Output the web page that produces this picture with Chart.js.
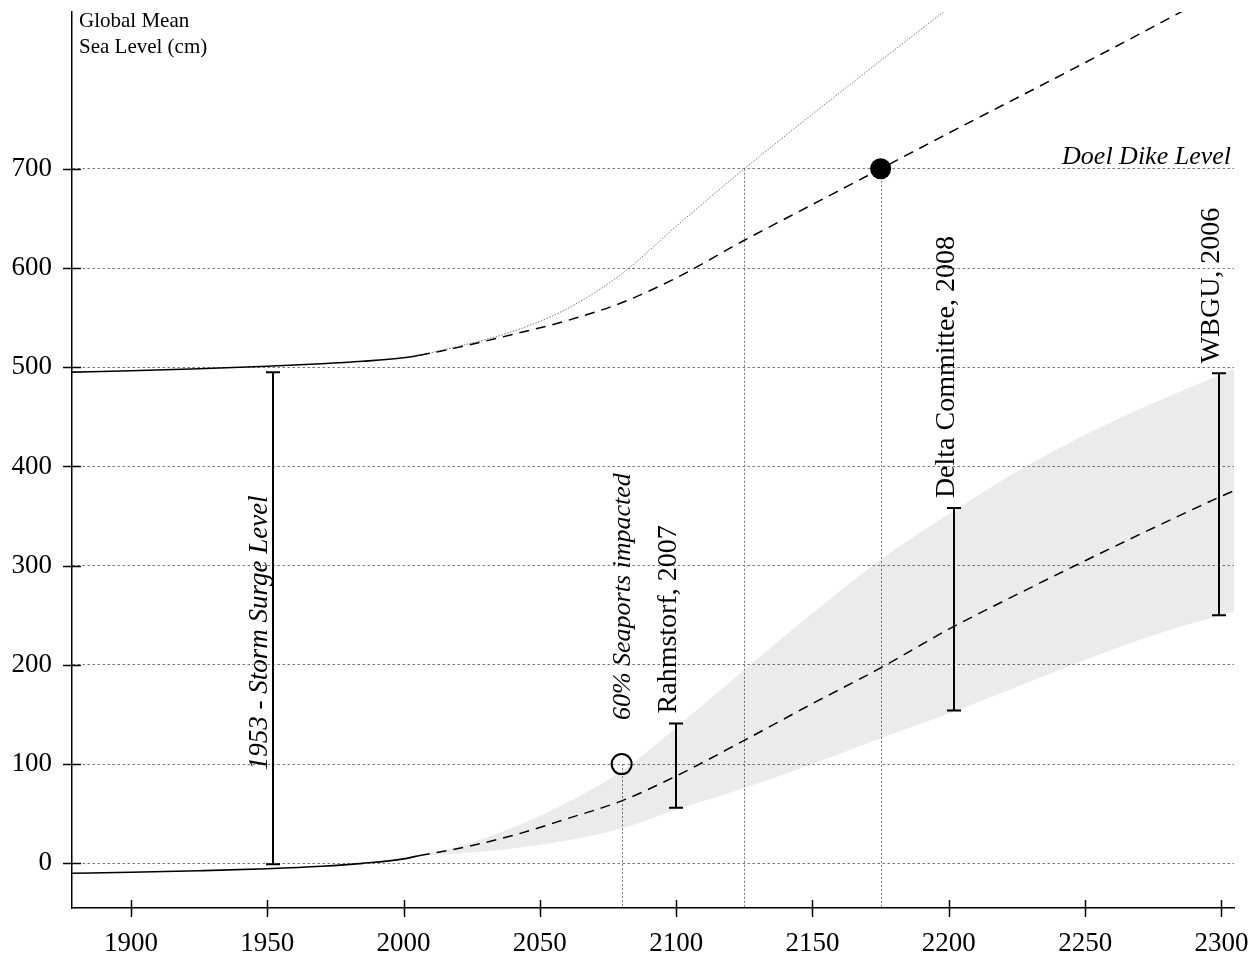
<!DOCTYPE html>
<html>
<head>
<meta charset="utf-8">
<script src="https://cdn.jsdelivr.net/npm/chart.js@4.4.1/dist/chart.umd.min.js"></script>
<style>
  html, body { margin: 0; padding: 0; background: #fff; }
  #wrap { width: 1254px; height: 965px; }
</style>
</head>
<body>
<div id="wrap"><canvas id="sea-level-chart" width="1254" height="965"></canvas></div>
<script>
const SERIF = '"Liberation Serif", "DejaVu Serif", serif';

// axis ticks
const yearTicks = [1900, 1950, 2000, 2050, 2100, 2150, 2200, 2250, 2300];
const levelTicks = [0, 100, 200, 300, 400, 500, 600, 700];

// observed global mean sea level, and the 1953 storm surge level riding on top of it
const histYears = [1878, 1900, 1925, 1950, 1970, 1985, 2000, 2006];
const histLevel = [-10, -9, -7.5, -5.5, -3, 0, 4.5, 8];
const surgeHistLevel = [495, 496.5, 498.5, 501, 503.5, 506, 509.5, 512];

// projected sea level: mid line and grey uncertainty band
const projYears = [2006, 2020, 2040, 2060, 2080, 2100, 2125, 2150, 2175, 2200, 2225, 2250, 2275, 2300, 2305];
const projMid = [8, 15, 28, 45, 63, 88, 124, 161, 197, 236, 271, 305, 338, 370, 376];
const projHigh = [8, 17, 36, 61, 93, 137, 195, 252, 306, 352, 395, 432, 464, 493, 499];
const projLow = [8, 10, 15, 23, 35, 54, 76, 100, 126, 151, 178, 205, 230, 250, 254];

// projected storm surge level (mid and fast scenario)
const surgeYears = [2006, 2020, 2040, 2060, 2080, 2100, 2125, 2150, 2175, 2200, 2250, 2290];
const surgeMid = [512, 520, 533, 547, 565, 590, 628, 664, 700, 736, 807, 865];
const fastYears = [2006, 2020, 2040, 2060, 2080, 2100, 2125, 2150, 2175, 2200];
const surgeFast = [512, 521, 536, 559, 594, 642, 700, 755, 809, 862];

// study ranges (cm) for the year they refer to
const studyYears = [2100, 2202, 2299];
const studyLow = [56, 154, 250];
const studyHigh = [141, 358, 494];
const studyNames = ['Rahmstorf, 2007', 'Delta Committee, 2008', 'WBGU, 2006'];

// 1953 storm surge
const stormYear = 1952;
const stormLow = -1;
const stormHigh = 495;

// marked points
const seaportYear = 2080;
const seaportLevel = 100;
const dikeYear = 2175;
const dikeLevel = 700;

// dotted drop lines: year and level they start from
const dropYears = [2080, 2125, 2175];
const dropLevels = [100, 700, 700];

const pts = (xs, ys) => xs.map((x, i) => ({ x, y: ys[i] }));

function upText(ctx, text, px, py, font, align) {
  ctx.save();
  ctx.translate(px, py);
  ctx.rotate(-Math.PI / 2);
  ctx.font = font;
  ctx.textAlign = align || 'left';
  ctx.textBaseline = 'alphabetic';
  ctx.fillStyle = '#000';
  ctx.fillText(text, 0, 0);
  ctx.restore();
}

// no label overflow padding: the plot box is fixed
function noPad(s) {
  s.paddingTop = 0;
  s.paddingBottom = 0;
  s.paddingLeft = 0;
  s.paddingRight = 0;
}

const annotate = {
  id: 'annotate',
  beforeDatasetsDraw(chart) {
    const { ctx, chartArea } = chart;
    const { x, y } = chart.scales;
    ctx.save();
    ctx.strokeStyle = '#777';
    ctx.lineWidth = 1;
    ctx.setLineDash([2, 2]);
    dropYears.forEach((yr, i) => {
      const px = Math.round(x.getPixelForValue(yr)) + 0.5;
      ctx.beginPath();
      ctx.moveTo(px, y.getPixelForValue(dropLevels[i]));
      ctx.lineTo(px, chartArea.bottom);
      ctx.stroke();
    });
    ctx.restore();
  },
  afterDraw(chart) {
    const { ctx, chartArea } = chart;
    const { x, y } = chart.scales;
    ctx.save();
    ctx.strokeStyle = '#000';
    ctx.lineWidth = 1.5;

    // tick marks crossing the axes
    levelTicks.forEach((v) => {
      const py = Math.round(y.getPixelForValue(v)) + 0.5;
      ctx.beginPath();
      ctx.moveTo(chartArea.left - 9, py);
      ctx.lineTo(chartArea.left + 9, py);
      ctx.stroke();
    });
    yearTicks.forEach((v) => {
      const px = Math.round(x.getPixelForValue(v)) + 0.5;
      ctx.beginPath();
      ctx.moveTo(px, chartArea.bottom - 8);
      ctx.lineTo(px, chartArea.bottom + 9);
      ctx.stroke();
    });

    // range bars
    ctx.lineWidth = 2;
    const bar = (yr, lo, hi) => {
      const px = Math.round(x.getPixelForValue(yr));
      const top = y.getPixelForValue(hi);
      const bot = y.getPixelForValue(lo);
      ctx.beginPath();
      ctx.moveTo(px, top);
      ctx.lineTo(px, bot);
      ctx.moveTo(px - 7, top);
      ctx.lineTo(px + 7, top);
      ctx.moveTo(px - 7, bot);
      ctx.lineTo(px + 7, bot);
      ctx.stroke();
    };
    bar(stormYear, stormLow, stormHigh);
    studyYears.forEach((yr, i) => {
      bar(yr, studyLow[i], studyHigh[i]);
      upText(ctx, studyNames[i], x.getPixelForValue(yr), y.getPixelForValue(studyHigh[i]) - 10,
        '28px ' + SERIF);
    });

    upText(ctx, '1953 - Storm Surge Level', x.getPixelForValue(stormYear) - 6,
      y.getPixelForValue(stormLow) - 94, 'italic 27px ' + SERIF);
    upText(ctx, '60% Seaports impacted', x.getPixelForValue(seaportYear) + 8,
      y.getPixelForValue(seaportLevel) - 44, 'italic 26px ' + SERIF);

    // dike level caption
    ctx.font = 'italic 26px ' + SERIF;
    ctx.fillStyle = '#000';
    ctx.textAlign = 'right';
    ctx.textBaseline = 'alphabetic';
    ctx.fillText('Doel Dike Level', chartArea.right - 3, y.getPixelForValue(dikeLevel) - 5);

    // axis title
    ctx.font = '21px ' + SERIF;
    ctx.textAlign = 'left';
    ctx.fillText('Global Mean', chartArea.left + 7, 27);
    ctx.fillText('Sea Level (cm)', chartArea.left + 7, 53);
    ctx.restore();
  },
};

const line = (data, extra) => Object.assign({
  data,
  borderColor: '#000',
  borderWidth: 1.6,
  pointRadius: 0,
  fill: false,
  cubicInterpolationMode: 'monotone',
}, extra);

new Chart(document.getElementById('sea-level-chart'), {
  type: 'line',
  data: {
    datasets: [
      line(pts(projYears, projHigh), { borderWidth: 0, fill: '+1', backgroundColor: 'rgba(0,0,0,0.08)', order: 10 }),
      line(pts(projYears, projLow), { borderWidth: 0, order: 9 }),
      line(pts(histYears, histLevel), { order: 3 }),
      line(pts(projYears, projMid), { borderWidth: 1.5, borderDash: [10, 7], order: 3 }),
      line(pts(histYears, surgeHistLevel), { order: 3 }),
      line(pts(surgeYears, surgeMid), { borderWidth: 1.5, borderDash: [10, 7], order: 3 }),
      line(pts(fastYears, surgeFast), { borderWidth: 0.8, borderColor: '#555', borderDash: [1.5, 1.5], order: 4 }),
      {
        data: [{ x: seaportYear, y: seaportLevel }],
        showLine: false,
        pointRadius: 10,
        pointBorderWidth: 2,
        pointBorderColor: '#000',
        pointBackgroundColor: 'rgba(0,0,0,0)',
        order: 0,
      },
      {
        data: [{ x: dikeYear, y: dikeLevel }],
        showLine: false,
        pointRadius: 10.5,
        pointBorderWidth: 0,
        pointBackgroundColor: '#000',
        order: 0,
      },
    ],
  },
  options: {
    responsive: false,
    animation: false,
    devicePixelRatio: 1,
    layout: { padding: { top: 10, right: 20, left: 0, bottom: 0 } },
    plugins: {
      legend: { display: false },
      tooltip: { enabled: false },
    },
    scales: {
      x: {
        type: 'linear',
        min: 1878.4,
        max: 2304.6,
        afterBuildTicks: (s) => { s.ticks = yearTicks.map((v) => ({ value: v })); },
        afterFit: (s) => { s.height = 57; noPad(s); },
        grid: { display: false, drawTicks: false },
        border: { display: true, color: '#000', width: 1.5 },
        ticks: {
          color: '#000',
          font: { family: SERIF, size: 27 },
          padding: 20,
          maxRotation: 0,
          autoSkip: false,
          callback: (v) => String(v),
        },
      },
      y: {
        type: 'linear',
        min: -45,
        max: 858,
        afterBuildTicks: (s) => { s.ticks = levelTicks.map((v) => ({ value: v })); },
        afterFit: (s) => { s.width = 72; noPad(s); },
        grid: { color: '#555', lineWidth: 0.8, drawTicks: false },
        border: { display: true, color: '#000', width: 1.5, dash: [2.5, 2.5] },
        ticks: {
          color: '#000',
          font: { family: SERIF, size: 27 },
          padding: 20,
          autoSkip: false,
          callback: (v) => String(v),
        },
      },
    },
  },
  plugins: [annotate],
});
</script>
</body>
</html>
